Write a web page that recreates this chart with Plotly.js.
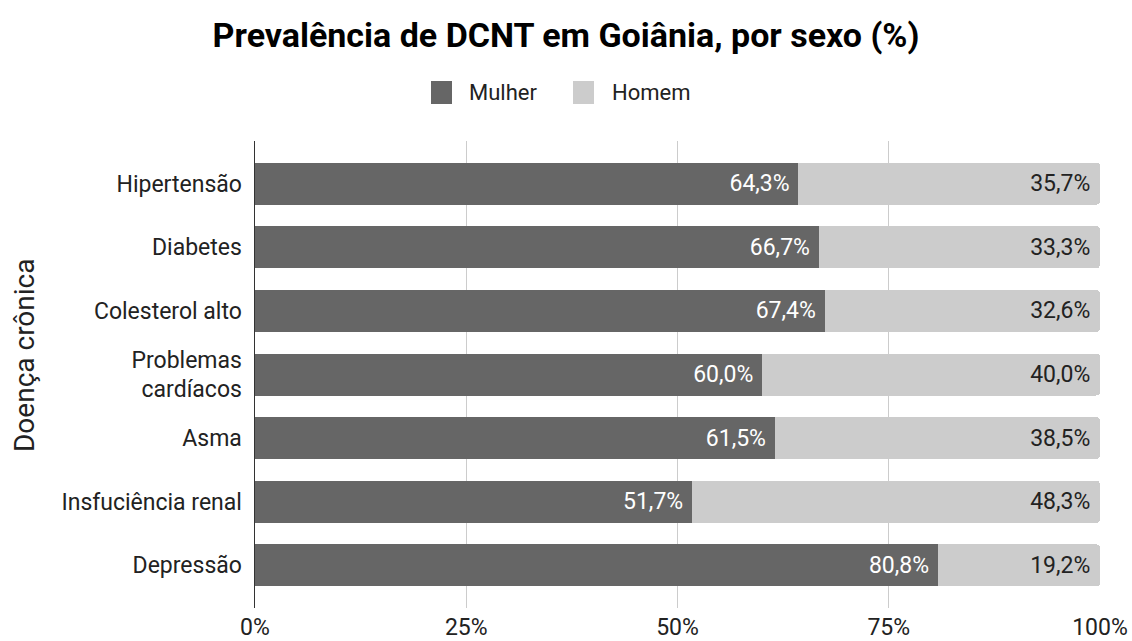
<!DOCTYPE html>
<html><head><meta charset="utf-8">
<script src="https://cdn.plot.ly/plotly-3.0.1.min.js"></script>
<style>html,body{margin:0;padding:0;background:#fff}#chart{width:1132px;height:641px}</style>
</head><body><div id="chart"></div>
<script>
const categories = ["Hipertensão","Diabetes","Colesterol alto","Problemas<br>cardíacos","Asma","Insfuciência renal","Depressão"];
const mulher = [64.3,66.7,67.4,60.0,61.5,51.7,80.8];
const homem = [35.7,33.3,32.6,40.0,38.5,48.3,19.2];
const seriesNames = ["Mulher","Homem"];
const seriesColors = ["#666666","#cccccc"];
const xTicks = [0,25,50,75,100];

const F = 'Roboto, Arial, sans-serif';
const W = 1132, H = 641, L = 255, R = 32, T = 141, B = 33;
const pw = W - L - R, ph = H - T - B;
const px = v => (v - L) / pw;
const py = v => (H - B - v) / ph;

const traces = [
  {type:'bar', orientation:'h', name:seriesNames[0], y:categories, x:mulher, showlegend:false,
   marker:{color:seriesColors[0]}, texttemplate:'%{x:.1f}%\u00a0', textposition:'inside',
   insidetextanchor:'end', textfont:{family:F,size:23,color:'#ffffff'}, hoverinfo:'skip'},
  {type:'bar', orientation:'h', name:seriesNames[1], y:categories, x:homem, showlegend:false,
   marker:{color:seriesColors[1]}, texttemplate:'%{x:.1f}%\u00a0', textposition:'inside',
   insidetextanchor:'end', textfont:{family:F,size:23,color:'#222222'}, hoverinfo:'skip'}
];

// custom legend (larger swatches, like the reference)
const legendSw = [431, 573];
const legendTx = [467, 610];
const shapes = seriesNames.map((n,i)=>({type:'rect', xref:'paper', yref:'paper',
  x0:px(legendSw[i]), x1:px(legendSw[i]+21), y0:py(104), y1:py(81),
  fillcolor:seriesColors[i], line:{width:0}}));
const annotations = seriesNames.map((n,i)=>({xref:'paper', yref:'paper', x:px(legendTx[i]), y:py(92),
  xanchor:'left', yanchor:'middle', showarrow:false, text:n, font:{family:F,size:22,color:'#222'}}));
annotations.push({xref:'paper', yref:'paper', x:px(24), y:py(355), xanchor:'center', yanchor:'middle',
  textangle:-90, showarrow:false, text:'Doença crônica', font:{family:F,size:28,color:'#222'}});

const layout = {
  width:W, height:H,
  margin:{l:L, r:R, t:T, b:B},
  paper_bgcolor:'#fff', plot_bgcolor:'#fff',
  separators:',.',
  barmode:'stack', bargap:0.34, barcornerradius:4,
  font:{family:F, color:'#222'},
  showlegend:false,
  shapes:shapes, annotations:annotations,
  title:{text:'<b>Prevalência de DCNT em Goiânia, por sexo (%)</b>', x:0.5, xanchor:'center', y:0.945, yanchor:'middle', font:{family:F,size:34,color:'#000'}},
  xaxis:{range:[0,100], tickvals:xTicks, ticktext:xTicks.map(v=>v+'%'), showgrid:true, gridcolor:'#cccccc', gridwidth:1,
         zeroline:false, showline:false, ticks:'', ticklabelstandoff:3, tickfont:{family:F,size:23,color:'#222'}, fixedrange:true},
  yaxis:{type:'category', categoryorder:'array', categoryarray:categories, range:[6.67,-0.67],
         showline:true, linecolor:'#333333', linewidth:1.5, ticks:'', ticklabelstandoff:7,
         tickfont:{family:F,size:23,color:'#222'}, fixedrange:true}
};
Plotly.newPlot('chart', traces, layout, {displayModeBar:false, staticPlot:true});
</script></body></html>
